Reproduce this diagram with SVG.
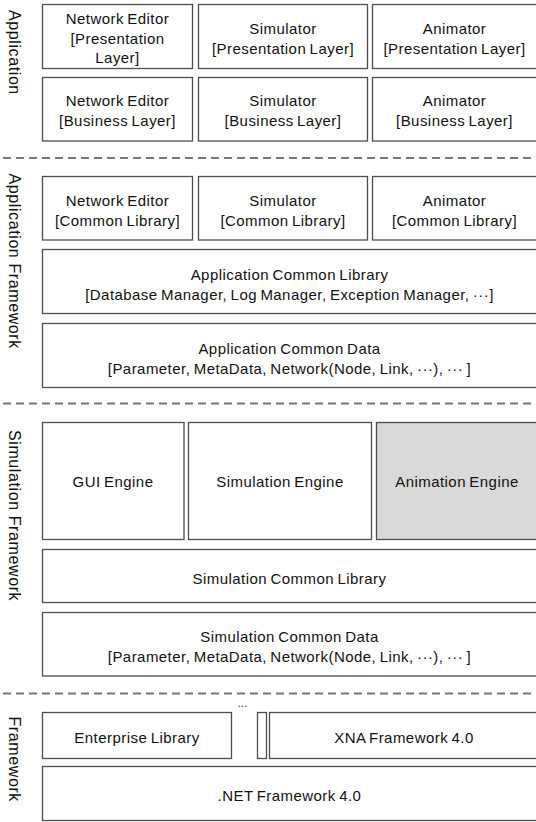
<svg xmlns="http://www.w3.org/2000/svg" width="536" height="822" viewBox="0 0 536 822">
<style>
  .box { fill: #ffffff; stroke: #4d4d4d; stroke-width: 1.3; }
  .shaded { fill: #d9d9d9; stroke: #4d4d4d; stroke-width: 1.3; }
  .t { font-family: "Liberation Sans", Arial, sans-serif; font-size: 15px; fill: #111111; text-anchor: middle; letter-spacing: 0.45px; word-spacing: -1.2px; }
  .lbl { font-family: "Liberation Sans", Arial, sans-serif; font-size: 16px; fill: #111111; letter-spacing: 0.6px; }
  .sep { stroke: #777777; stroke-width: 2; stroke-dasharray: 8 5; fill: none; }
  .dots { font-family: "Liberation Sans", Arial, sans-serif; font-size: 12px; fill: #333333; text-anchor: middle; }
</style>
<rect x="0" y="0" width="536" height="822" fill="#ffffff"/>

<g id="labels">
  <text class="lbl" transform="translate(8.5,10) rotate(90)">Application</text>
  <text class="lbl" transform="translate(8.5,173.5) rotate(90)">Application Framework</text>
  <text class="lbl" transform="translate(8.5,430) rotate(90)">Simulation Framework</text>
  <text class="lbl" transform="translate(8.5,716.5) rotate(90)">Framework</text>
</g>

<g id="separators">
  <line class="sep" x1="3" y1="158" x2="536" y2="158"/>
  <line class="sep" x1="3" y1="403.5" x2="536" y2="403.5"/>
  <line class="sep" x1="3" y1="693.5" x2="536" y2="693.5"/>
</g>

<g id="connectors"></g>

<g id="ne-presentation">
  <rect class="box" x="42.5" y="4.5" width="150" height="64"/>
  <text class="t" x="117.5" y="23.5">Network Editor</text>
  <text class="t" x="117.5" y="43.5">[Presentation</text>
  <text class="t" x="117.5" y="63">Layer]</text>
</g>
<g id="sim-presentation">
  <rect class="box" x="198.5" y="4.5" width="169" height="64"/>
  <text class="t" x="283" y="33.5">Simulator</text>
  <text class="t" x="283" y="53.5">[Presentation Layer]</text>
</g>
<g id="anim-presentation">
  <rect class="box" x="372.5" y="4.5" width="165" height="64"/>
  <text class="t" x="454.5" y="33.5">Animator</text>
  <text class="t" x="454.5" y="53.5">[Presentation Layer]</text>
</g>

<g id="ne-business">
  <rect class="box" x="42.5" y="77.5" width="150" height="63.5"/>
  <text class="t" x="117.5" y="106">Network Editor</text>
  <text class="t" x="117.5" y="126">[Business Layer]</text>
</g>
<g id="sim-business">
  <rect class="box" x="198.5" y="77.5" width="169" height="63.5"/>
  <text class="t" x="283" y="106">Simulator</text>
  <text class="t" x="283" y="126">[Business Layer]</text>
</g>
<g id="anim-business">
  <rect class="box" x="372.5" y="77.5" width="165" height="63.5"/>
  <text class="t" x="454.5" y="106">Animator</text>
  <text class="t" x="454.5" y="126">[Business Layer]</text>
</g>

<g id="ne-common">
  <rect class="box" x="42.5" y="176.5" width="150" height="63.5"/>
  <text class="t" x="117.5" y="206">Network Editor</text>
  <text class="t" x="117.5" y="226">[Common Library]</text>
</g>
<g id="sim-common">
  <rect class="box" x="198.5" y="176.5" width="169" height="63.5"/>
  <text class="t" x="283" y="206">Simulator</text>
  <text class="t" x="283" y="226">[Common Library]</text>
</g>
<g id="anim-common">
  <rect class="box" x="372.5" y="176.5" width="165" height="63.5"/>
  <text class="t" x="454.5" y="206">Animator</text>
  <text class="t" x="454.5" y="226">[Common Library]</text>
</g>

<g id="app-common-library">
  <rect class="box" x="42.5" y="249.5" width="495" height="64"/>
  <text class="t" x="289.5" y="280">Application Common Library</text>
  <text class="t" x="289.5" y="300">[Database Manager, Log Manager, Exception Manager, ···]</text>
</g>
<g id="app-common-data">
  <rect class="box" x="42.5" y="323.5" width="495" height="64"/>
  <text class="t" x="289.5" y="354">Application Common Data</text>
  <text class="t" x="289.5" y="374">[Parameter, MetaData, Network(Node, Link, ···), ··· ]</text>
</g>

<g id="gui-engine">
  <rect class="box" x="42.5" y="422.5" width="141.5" height="117"/>
  <text class="t" x="113" y="487">GUI Engine</text>
</g>
<g id="simulation-engine">
  <rect class="box" x="188.5" y="422.5" width="183" height="117"/>
  <text class="t" x="280" y="487">Simulation Engine</text>
</g>
<g id="animation-engine">
  <rect class="shaded" x="376.5" y="422.5" width="161" height="117"/>
  <text class="t" x="457" y="487">Animation Engine</text>
</g>

<g id="sim-common-library">
  <rect class="box" x="42.5" y="549.5" width="495" height="53"/>
  <text class="t" x="289.5" y="584">Simulation Common Library</text>
</g>
<g id="sim-common-data">
  <rect class="box" x="42.5" y="612.5" width="495" height="63.5"/>
  <text class="t" x="289.5" y="642">Simulation Common Data</text>
  <text class="t" x="289.5" y="662">[Parameter, MetaData, Network(Node, Link, ···), ··· ]</text>
</g>

<g id="more">
  <text class="dots" x="242.5" y="707">...</text>
</g>
<g id="enterprise-library">
  <rect class="box" x="42.5" y="712.5" width="189" height="46"/>
  <text class="t" x="137" y="743">Enterprise Library</text>
</g>
<g id="other-framework">
  <rect class="box" x="257.5" y="712.5" width="9" height="46"/>
</g>
<g id="xna-framework">
  <rect class="box" x="269.5" y="712.5" width="268" height="46"/>
  <text class="t" x="404" y="743">XNA Framework 4.0</text>
</g>
<g id="net-framework">
  <rect class="box" x="42.5" y="766.5" width="495" height="54"/>
  <text class="t" x="289.5" y="801">.NET Framework 4.0</text>
</g>
</svg>
